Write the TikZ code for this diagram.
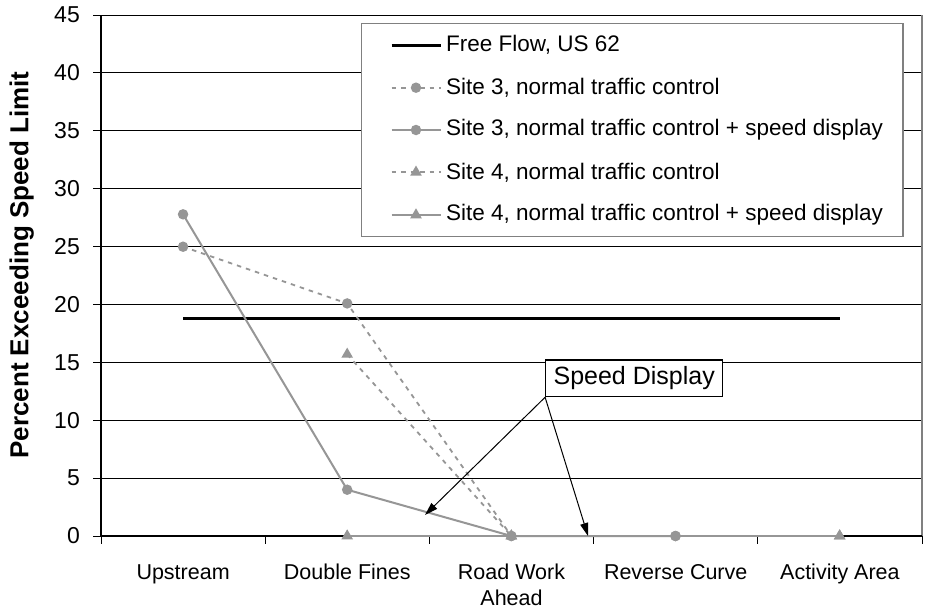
\documentclass[tikz,border=0pt]{standalone}
\usepackage{fontspec}
\setmainfont{Liberation Sans}
\usetikzlibrary{shapes.geometric,arrows.meta}
\definecolor{series}{RGB}{150,150,150}
\definecolor{frame}{RGB}{128,128,128}

\begin{document}
\begin{tikzpicture}[x=1pt,y=-1pt,
  grid/.style={black, line width=0.9pt},
  axisline/.style={black, line width=1.3pt},
  dotmark/.style={circle, fill=series, inner sep=0pt, minimum size=10.5pt},
  trimark/.style={regular polygon, regular polygon sides=3, fill=series, inner sep=0pt, minimum size=13.5pt},
  solidser/.style={series, line width=2pt},
  dashser/.style={series, line width=1.8pt, dash pattern=on 4.5pt off 5pt},
  freeflow/.style={black, line width=3pt},
  ticklbl/.style={font=\fontsize{23}{27}\selectfont, anchor=east, inner sep=0pt},
  catlbl/.style={font=\fontsize{21.5}{26}\selectfont, anchor=base, inner sep=0pt},
  legtxt/.style={font=\fontsize{22.5}{27}\selectfont, anchor=west, inner sep=0pt},
  pointer/.style={black, line width=1pt, -{Triangle[length=13pt,width=8pt]}}
]
\useasboundingbox (0,0) rectangle (932,613);
\fill[white] (0,0) rectangle (932,613);

% horizontal grid lines
\foreach \v in {5,10,...,45} {
  \draw[grid] (101,{536-11.578*\v}) -- (922,{536-11.578*\v});
}
% y ticks and labels
\foreach \v in {0,5,...,45} {
  \draw[grid] (93,{536-11.578*\v}) -- (101,{536-11.578*\v});
  \node[ticklbl] (ytick\v) at (80,{536-11.578*\v}) {\v};
}
% x ticks
\foreach \k in {0,...,5} {
  \draw[grid] ({101+164.2*\k},536) -- ({101+164.2*\k},544);
}
% plot frame
\draw[frame, line width=2pt] (922,15) -- (922,536);
\draw[axisline] (101,15) -- (101,536);
\draw[axisline] (101,536) -- (922,536);

% axis title
\node[font=\bfseries\fontsize{26}{30}\selectfont, rotate=90, inner sep=0pt] (ytitle) at (21.7,265) {Percent Exceeding Speed Limit};

% category labels
\node[catlbl] (c1) at (183.1,579) {Upstream};
\node[catlbl] (c2) at (347.3,579) {Double Fines};
\node[catlbl] (c3) at (511.5,579) {Road Work};
\node[catlbl] (c3b) at (511.5,605) {Ahead};
\node[catlbl] (c4) at (675.7,579) {Reverse Curve};
\node[catlbl] (c5) at (839.9,579) {Activity Area};

% data series
\begin{scope}[shift={(18.9,536)}, xscale=164.2, yscale=-11.578]
  \coordinate (f1) at (1,18.8);
  \coordinate (f5) at (5,18.8);
  \draw[freeflow] (f1) -- (f5);

  % Site 3, normal traffic control
  \coordinate (a1) at (1,25);
  \coordinate (a2) at (2,20.1);
  \coordinate (a3) at (3,0);
  \coordinate (a4) at (4,0);
  % Site 3, with speed display
  \coordinate (b1) at (1,27.8);
  \coordinate (b2) at (2,4);
  \coordinate (b3) at (3,0);
  \coordinate (b4) at (4,0);
  % Site 4, normal traffic control
  \coordinate (c2p) at (2,15.7);
  \coordinate (c3p) at (3,0);
  \coordinate (c5p) at (5,0);
  % Site 4, with speed display
  \coordinate (d2) at (2,0);
  \coordinate (d3) at (3,0);
  \coordinate (d5) at (5,0);

  \draw[dashser] (c2p) -- (c3p);
  \draw[solidser] (d2) -- (d3) -- (d5);
  \draw[dashser] (a1) -- (a2) -- (a3);
  \draw[solidser] (b1) -- (b2) -- (b3) -- (b4);

  \foreach \p in {c2p,c3p,c5p,d2,d3,d5} { \node[trimark] at (\p) {}; }
  \foreach \p in {a1,a2,a3,a4,b1,b2,b3,b4} { \node[dotmark] at (\p) {}; }
\end{scope}

% legend
\node[draw=frame, line width=1.5pt, fill=white, minimum width=541.3pt, minimum height=213.4pt, inner sep=0pt] (legend) at (632.35,130) {};
\coordinate (l1a) at (391.7,45);    \coordinate (l1b) at (441,45);
\coordinate (l2a) at (391.7,87.7);  \coordinate (l2b) at (441,87.7);
\coordinate (l3a) at (391.7,130);   \coordinate (l3b) at (441,130);
\coordinate (l4a) at (391.7,172.3); \coordinate (l4b) at (441,172.3);
\coordinate (l5a) at (391.7,215);   \coordinate (l5b) at (441,215);
\draw[freeflow] (l1a) -- (l1b);
\draw[dashser] (l2a) -- (l2b);
\draw[solidser] (l3a) -- (l3b);
\draw[dashser] (l4a) -- (l4b);
\draw[solidser] (l5a) -- (l5b);
\node[dotmark] (m2) at (416,87.7) {};
\node[dotmark] (m3) at (416,130) {};
\node[trimark] (m4) at (416,172.3) {};
\node[trimark] (m5) at (416,215) {};
\node[legtxt] (t1) at (446,45) {Free Flow, US 62};
\node[legtxt] (t2) at (446,87.7) {Site 3, normal traffic control};
\node[legtxt] (t3) at (446,130) {Site 3, normal traffic control + speed display};
\node[legtxt] (t4) at (446,172.3) {Site 4, normal traffic control};
\node[legtxt] (t5) at (446,215) {Site 4, normal traffic control + speed display};

% callout
\node[draw, line width=1.2pt, fill=white, font=\fontsize{25}{30}\selectfont, minimum width=177pt, minimum height=36.7pt, inner sep=0pt] (sd) at (634.2,378.3) {Speed Display};
\coordinate (tipA) at (425,515);
\coordinate (tipB) at (588,536);
\draw[pointer] (sd.south west) -- (tipA);
\draw[pointer] (sd.south west) -- (tipB);
\end{tikzpicture}
\end{document}
